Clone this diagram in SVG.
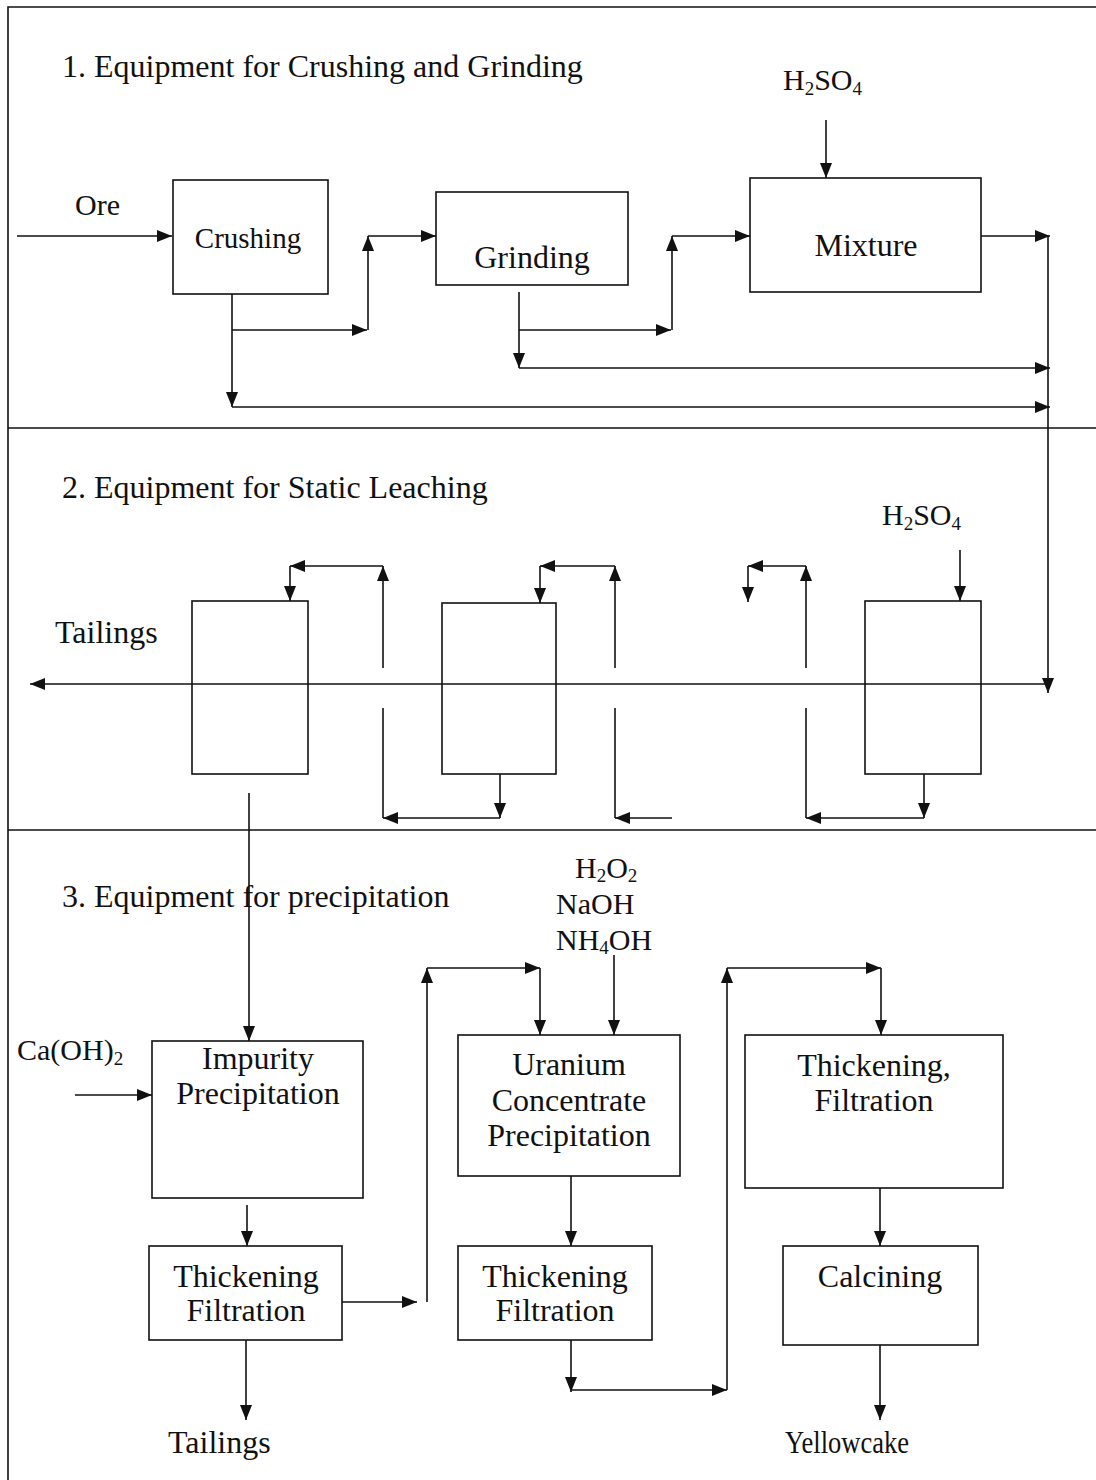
<svg xmlns="http://www.w3.org/2000/svg" width="1096" height="1480" viewBox="0 0 1096 1480">
<style>
text{font-family:"Liberation Serif","Times New Roman",serif;font-size:32px;fill:#111}
.c{text-anchor:middle}
.m{font-size:30px}
.box{fill:none;stroke:#111;stroke-width:1.6}
.ln{fill:none;stroke:#111;stroke-width:1.6}
.a{fill:none;stroke:#111;stroke-width:1.6;marker-end:url(#ah)}
.s{font-size:19px}
</style>
<defs>
<marker id="ah" markerUnits="userSpaceOnUse" markerWidth="16" markerHeight="12" refX="15" refY="6" orient="auto">
<path d="M0,0 L15,6 L0,12 z" fill="#111"/>
</marker>
</defs>
<rect width="1096" height="1480" fill="#fff"/>
<g id="frame">
<path class="ln" d="M8,1480 V7 H1096"/>
<line class="ln" x1="8" y1="428" x2="1096" y2="428"/>
<line class="ln" x1="8" y1="830" x2="1096" y2="830"/>
</g>
<g id="titles">
<text x="62" y="77">1. Equipment for Crushing and Grinding</text>
<text x="62" y="498">2. Equipment for Static Leaching</text>
<text x="62" y="907">3. Equipment for precipitation</text>
</g>
<g id="labels">
<text class="m" x="783" y="90">H<tspan class="s" dy="5">2</tspan><tspan dy="-5">SO</tspan><tspan class="s" dy="5">4</tspan></text>
<text class="m" x="75" y="215">Ore</text>
<text class="m" x="882" y="525">H<tspan class="s" dy="5">2</tspan><tspan dy="-5">SO</tspan><tspan class="s" dy="5">4</tspan></text>
<text x="55" y="643">Tailings</text>
<text class="m" x="575" y="878">H<tspan class="s" dy="4">2</tspan><tspan dy="-4">O</tspan><tspan class="s" dy="4">2</tspan></text>
<text class="m" x="556" y="914">NaOH</text>
<text class="m" x="556" y="950">NH<tspan class="s" dy="4">4</tspan><tspan dy="-4">OH</tspan></text>
<text class="m" x="17" y="1060">Ca(OH)<tspan class="s" dy="5">2</tspan></text>
<text x="168" y="1453">Tailings</text>
<text x="785" y="1453" textLength="124" lengthAdjust="spacingAndGlyphs">Yellowcake</text>
</g>
<g id="crushing"><rect class="box" x="173" y="180" width="155" height="114"/><text class="c" x="248" y="248" style="font-size:29px">Crushing</text></g>
<g id="grinding"><rect class="box" x="436" y="192" width="192" height="93"/><text class="c" x="532" y="268">Grinding</text></g>
<g id="mixture"><rect class="box" x="750" y="178" width="231" height="114"/><text class="c" x="866" y="256">Mixture</text></g>
<g id="tank1"><rect class="box" x="192" y="601" width="116" height="173"/></g>
<g id="tank2"><rect class="box" x="442" y="603" width="114" height="171"/></g>
<g id="tank4"><rect class="box" x="865" y="601" width="116" height="173"/></g>
<g id="impurity"><rect class="box" x="152" y="1041" width="211" height="157"/><text class="c" x="258" y="1069">Impurity</text><text class="c" x="258" y="1104">Precipitation</text></g>
<g id="uranium"><rect class="box" x="458" y="1035" width="222" height="141"/><text class="c" x="569" y="1075">Uranium</text><text class="c" x="569" y="1111">Concentrate</text><text class="c" x="569" y="1146">Precipitation</text></g>
<g id="thickfilt"><rect class="box" x="745" y="1035" width="258" height="153"/><text class="c" x="874" y="1076">Thickening,</text><text class="c" x="874" y="1111">Filtration</text></g>
<g id="thick1"><rect class="box" x="149" y="1246" width="193" height="94"/><text class="c" x="246" y="1287">Thickening</text><text class="c" x="246" y="1321">Filtration</text></g>
<g id="thick2"><rect class="box" x="458" y="1246" width="194" height="94"/><text class="c" x="555" y="1287">Thickening</text><text class="c" x="555" y="1321">Filtration</text></g>
<g id="calcining"><rect class="box" x="783" y="1246" width="195" height="99"/><text class="c" x="880" y="1287">Calcining</text></g>
<g id="connectors">
<line class="a" x1="17" y1="236" x2="172" y2="236"/>
<line class="a" x1="826" y1="120" x2="826" y2="178"/>
<line class="a" x1="232" y1="294" x2="232" y2="407"/>
<line class="a" x1="232" y1="407" x2="1050" y2="407"/>
<line class="a" x1="232" y1="330" x2="367" y2="330"/>
<line class="a" x1="368" y1="330" x2="368" y2="236"/>
<line class="a" x1="368" y1="236" x2="436" y2="236"/>
<line class="a" x1="519" y1="292" x2="519" y2="368"/>
<line class="a" x1="519" y1="330" x2="671" y2="330"/>
<line class="a" x1="672" y1="330" x2="672" y2="236"/>
<line class="a" x1="672" y1="236" x2="750" y2="236"/>
<line class="a" x1="519" y1="368" x2="1050" y2="368"/>
<line class="a" x1="981" y1="236" x2="1050" y2="236"/>
<line class="a" x1="1048" y1="236" x2="1048" y2="693"/>
<line class="a" x1="1048" y1="684" x2="30" y2="684"/>
<line class="a" x1="960" y1="550" x2="960" y2="601"/>
<line class="a" x1="500" y1="774" x2="500" y2="818"/>
<line class="a" x1="500" y1="818" x2="383" y2="818"/>
<line class="ln" x1="383" y1="818" x2="383" y2="708"/>
<line class="a" x1="383" y1="668" x2="383" y2="566"/>
<line class="a" x1="383" y1="566" x2="290" y2="566"/>
<line class="a" x1="290" y1="566" x2="290" y2="601"/>
<line class="a" x1="672" y1="818" x2="615" y2="818"/>
<line class="ln" x1="615" y1="818" x2="615" y2="708"/>
<line class="a" x1="615" y1="668" x2="615" y2="566"/>
<line class="a" x1="615" y1="566" x2="540" y2="566"/>
<line class="a" x1="540" y1="566" x2="540" y2="603"/>
<line class="a" x1="924" y1="774" x2="924" y2="818"/>
<line class="a" x1="924" y1="818" x2="806" y2="818"/>
<line class="ln" x1="806" y1="818" x2="806" y2="708"/>
<line class="a" x1="806" y1="668" x2="806" y2="566"/>
<line class="a" x1="806" y1="566" x2="748" y2="566"/>
<line class="a" x1="748" y1="566" x2="748" y2="602"/>
<line class="a" x1="249" y1="793" x2="249" y2="1041"/>
<line class="a" x1="75" y1="1095" x2="152" y2="1095"/>
<line class="a" x1="247" y1="1205" x2="247" y2="1246"/>
<line class="a" x1="342" y1="1302" x2="417" y2="1302"/>
<line class="a" x1="427" y1="1302" x2="427" y2="968"/>
<line class="a" x1="427" y1="968" x2="540" y2="968"/>
<line class="a" x1="540" y1="968" x2="540" y2="1035"/>
<line class="a" x1="614" y1="955" x2="614" y2="1035"/>
<line class="a" x1="571" y1="1176" x2="571" y2="1246"/>
<line class="a" x1="571" y1="1340" x2="571" y2="1392"/>
<line class="a" x1="571" y1="1390" x2="727" y2="1390"/>
<line class="a" x1="727" y1="1390" x2="727" y2="968"/>
<line class="a" x1="727" y1="968" x2="881" y2="968"/>
<line class="a" x1="881" y1="968" x2="881" y2="1035"/>
<line class="a" x1="880" y1="1188" x2="880" y2="1246"/>
<line class="a" x1="880" y1="1345" x2="880" y2="1420"/>
<line class="a" x1="246" y1="1340" x2="246" y2="1420"/>
</g>
</svg>
